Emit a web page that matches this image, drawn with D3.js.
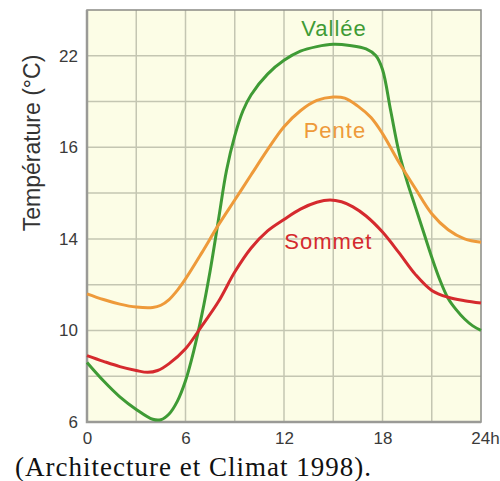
<!DOCTYPE html>
<head>
<meta charset="utf-8">
<title>Température</title>
<script src="https://d3js.org/d3.v7.min.js"></script>
<style>
  body { margin: 0; background: #fff; }
</style>
</head>
<body>
<div id="chart"></div>
<script>

  // values: [hour, °C]
  var vallee = [[0,8.6],[1,7.8],[2,7.1],[3,6.55],[4,6.12],[4.5,6.1],[5,6.35],[5.5,6.9],[6,7.8],
    [6.5,9.1],[7,10.7],[7.5,12.6],[8,14.8],[8.5,17.0],[9,18.5],[9.5,19.6],[10,20.3],[11,21.2],
    [12,21.8],[13,22.2],[14,22.4],[15,22.5],[16,22.45],[17,22.3],[17.6,22.0],[18,21.4],
    [18.5,19.6],[19,17.8],[19.5,16.5],[20,15.4],[20.5,14.3],[21,13.2],[21.5,12.2],[22,11.4],
    [22.5,10.9],[23,10.5],[23.5,10.2],[24,10.0]];
  var pente = [[0,11.6],[1,11.35],[2,11.15],[3,11.02],[4,11.0],[4.5,11.1],[5,11.35],[5.5,11.75],
    [6,12.25],[7,13.4],[8,14.6],[9,15.7],[10,16.8],[11,17.9],[12,18.9],[13,19.6],[14,20.05],
    [15,20.2],[15.7,20.15],[16.5,19.8],[17.3,19.3],[18,18.6],[19,17.35],[20,16.2],[21,15.1],
    [22,14.4],[23,14.0],[24,13.85]];
  var sommet = [[0,8.9],[1,8.65],[2,8.42],[3,8.25],[3.7,8.17],[4.3,8.25],[5,8.55],[6,9.2],
    [7,10.2],[8,11.25],[9,12.55],[10,13.6],[11,14.35],[12,14.85],[13,15.3],[14,15.6],[14.8,15.7],
    [15.5,15.62],[16.2,15.4],[17,15.0],[18,14.3],[19,13.4],[20,12.45],[21,11.75],[22,11.45],
    [23,11.3],[24,11.2]];

  var xTicks = [0, 6, 12, 18, 24];
  var xTickLabels = ["0", "6", "12", "18", "24h"];
  var yTicks = [6, 10, 14, 18, 22];
  var yTickLabels = ["6", "10", "14", "16", "22"];

  var margin = {top: 10, right: 19, bottom: 59, left: 87},
      width = 500 - margin.left - margin.right,
      height = 481 - margin.top - margin.bottom;

  var svg = d3.select("#chart")
    .append("svg")
      .attr("width", 500)
      .attr("height", 481)
    .append("g")
      .attr("transform", "translate(" + margin.left + "," + margin.top + ")");

  var x = d3.scaleLinear().domain([0, 24]).range([0, width]);
  var y = d3.scaleLinear().domain([6, 24]).range([height, 0]);

  svg.append("rect")
    .attr("width", width)
    .attr("height", height)
    .style("fill", "#fcfde6");

  // grid every 3 h and every 2 °C
  svg.append("g")
    .selectAll("line")
    .data(d3.range(3, 24, 3))
    .enter().append("line")
      .attr("x1", function(d) { return x(d); })
      .attr("x2", function(d) { return x(d); })
      .attr("y1", 0)
      .attr("y2", height)
      .style("stroke", "#c4c6b2")
      .style("stroke-width", 1.5);

  svg.append("g")
    .selectAll("line")
    .data(d3.range(8, 24, 2))
    .enter().append("line")
      .attr("x1", 0)
      .attr("x2", width)
      .attr("y1", function(d) { return y(d); })
      .attr("y2", function(d) { return y(d); })
      .style("stroke", "#c4c6b2")
      .style("stroke-width", 1.5);

  svg.append("rect")
    .attr("width", width)
    .attr("height", height)
    .style("fill", "none")
    .style("stroke", "#8a8a85")
    .style("stroke-width", 1.5);

  // heavier left and bottom axis lines
  svg.append("path")
    .attr("d", "M0,0V" + height + "H" + width)
    .style("fill", "none")
    .style("stroke", "#9a9a96")
    .style("stroke-width", 2.5);

  var xAxis = svg.append("g")
    .attr("transform", "translate(0," + height + ")")
    .call(d3.axisBottom(x).tickValues(xTicks).tickSize(0).tickPadding(10)
      .tickFormat(function(d, i) { return xTickLabels[i]; }));
  xAxis.select(".domain").remove();
  xAxis.selectAll("text")
    .style("font-family", "Liberation Sans, Arial, sans-serif")
    .style("font-size", "17px")
    .style("fill", "#3a3a3a");
  xAxis.selectAll("text").filter(function(d) { return d == 24; }).attr("dx", "4");

  var yAxis = svg.append("g")
    .call(d3.axisLeft(y).tickValues(yTicks).tickSize(0).tickPadding(9)
      .tickFormat(function(d, i) { return yTickLabels[i]; }));
  yAxis.select(".domain").remove();
  yAxis.selectAll("text")
    .style("font-family", "Liberation Sans, Arial, sans-serif")
    .style("font-size", "17px")
    .style("fill", "#3a3a3a");

  var line = d3.line()
    .x(function(d) { return x(d[0]); })
    .y(function(d) { return y(d[1]); })
    .curve(d3.curveCatmullRom.alpha(0.5));

  var series = [
    {name: "Vallée", values: vallee, color: "#3f9b35", lx: 15.05, ly: 22.86},
    {name: "Pente", values: pente, color: "#ee9a3a", lx: 15.1, ly: 18.4},
    {name: "Sommet", values: sommet, color: "#d52a2e", lx: 14.7, ly: 13.56}
  ];

  svg.append("g")
    .selectAll("path")
    .data(series)
    .enter().append("path")
      .attr("d", function(d) { return line(d.values); })
      .style("fill", "none")
      .style("stroke", function(d) { return d.color; })
      .style("stroke-width", 3);

  svg.append("g")
    .selectAll("text")
    .data(series)
    .enter().append("text")
      .attr("x", function(d) { return x(d.lx); })
      .attr("y", function(d) { return y(d.ly); })
      .attr("text-anchor", "middle")
      .style("font-family", "Liberation Sans, Arial, sans-serif")
      .style("font-size", "22px")
      .style("letter-spacing", "1px")
      .style("fill", function(d) { return d.color; })
      .text(function(d) { return d.name; });

  svg.append("text")
    .attr("transform", "translate(" + (-47) + "," + 133 + ") rotate(-90)")
    .attr("text-anchor", "middle")
    .style("font-family", "Liberation Sans, Arial, sans-serif")
    .style("font-size", "23px")
    .style("fill", "#333")
    .text("Température (°C)");

  svg.append("text")
    .attr("x", -72)
    .attr("y", height + 54)
    .style("font-family", "Liberation Serif, Times New Roman, serif")
    .style("font-size", "27px")
    .style("letter-spacing", "1px")
    .style("fill", "#111")
    .text("(Architecture et Climat 1998).")

</script>
</body>
